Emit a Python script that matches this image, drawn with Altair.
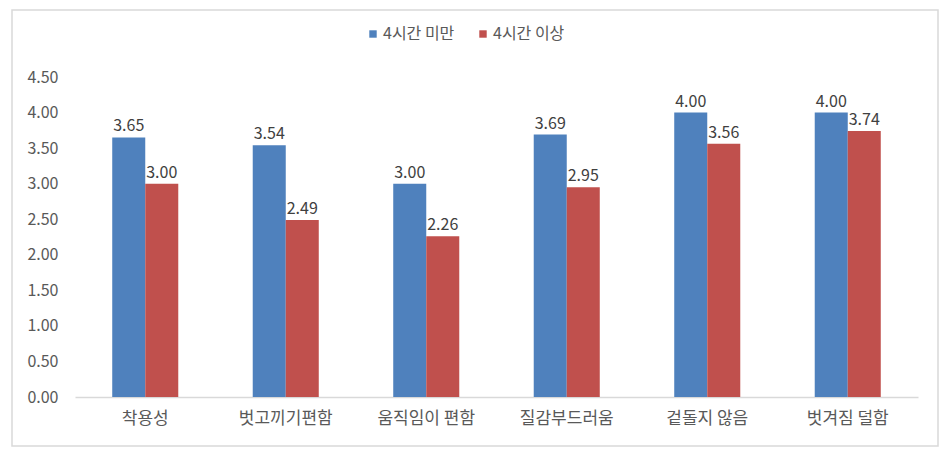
import altair as alt
import pandas as pd

categories = ["착용성", "벗고끼기편함", "움직임이 편함", "질감부드러움", "겉돌지 않음", "벗겨짐 덜함"]
series = ["4시간 미만", "4시간 이상"]
under4 = [3.65, 3.54, 3.00, 3.69, 4.00, 4.00]
over4 = [3.00, 2.49, 2.26, 2.95, 3.56, 3.74]
y_ticks = [0, 0.5, 1.0, 1.5, 2.0, 2.5, 3.0, 3.5, 4.0, 4.5]
colors = ["#4F81BD", "#C0504D"]

rows = []
for c, a, b in zip(categories, under4, over4):
    rows.append({"category": c, "series": series[0], "value": a})
    rows.append({"category": c, "series": series[1], "value": b})
df = pd.DataFrame(rows)

FONT = "Noto Sans CJK KR"

x = alt.X("category:N", sort=categories,
          scale=alt.Scale(paddingInner=0.53, paddingOuter=0.265),
          axis=alt.Axis(title=None, labelAngle=0, ticks=False, domain=True,
                        domainColor="#D9D9D9", domainWidth=1.5,
                        labelPadding=13, labelFontSize=17, labelColor="#595959",
                        labelFont=FONT))
y = alt.Y("value:Q", scale=alt.Scale(domain=[0, 4.5], nice=False),
          axis=alt.Axis(title=None, values=y_ticks, format=".2f", grid=False,
                        domain=False, ticks=False, labelPadding=17,
                        labelFontSize=16, labelColor="#595959", labelFont=FONT))
xo = alt.XOffset("series:N", sort=series)

base = alt.Chart(df)

bars = base.mark_bar().encode(
    x=x, y=y, xOffset=xo,
    color=alt.Color("series:N", sort=series,
                    scale=alt.Scale(domain=series, range=colors),
                    legend=alt.Legend(orient="none", legendX=290, legendY=-51,
                                      direction="horizontal", title=None,
                                      symbolType="square", symbolSize=55,
                                      symbolStrokeWidth=0,
                                      labelFontSize=16, labelColor="#595959",
                                      labelFont=FONT, labelOffset=2,
                                      columnPadding=20)),
)

labels = base.mark_text(dy=-11, fontSize=16, color="#404040", font=FONT).encode(
    x=x, y=y, xOffset=xo,
    text=alt.Text("value:Q", format=".2f"),
)

frame = alt.Chart(pd.DataFrame({"a": [0]})).mark_rect(
    fill="transparent", stroke="#D9D9D9", strokeWidth=1.5
).encode(x=alt.value(-63), x2=alt.value(863), y=alt.value(-67), y2=alt.value(369))

chart = alt.layer(frame, bars, labels).properties(
    width=843, height=320,
    padding={"left": 75, "top": 77, "right": 31, "bottom": 62},
    autosize=alt.AutoSizeParams(type="none"),
    background="white",
).configure_view(stroke="transparent")

chart.save("out.html", embed_options={"renderer": "svg", "actions": False})
